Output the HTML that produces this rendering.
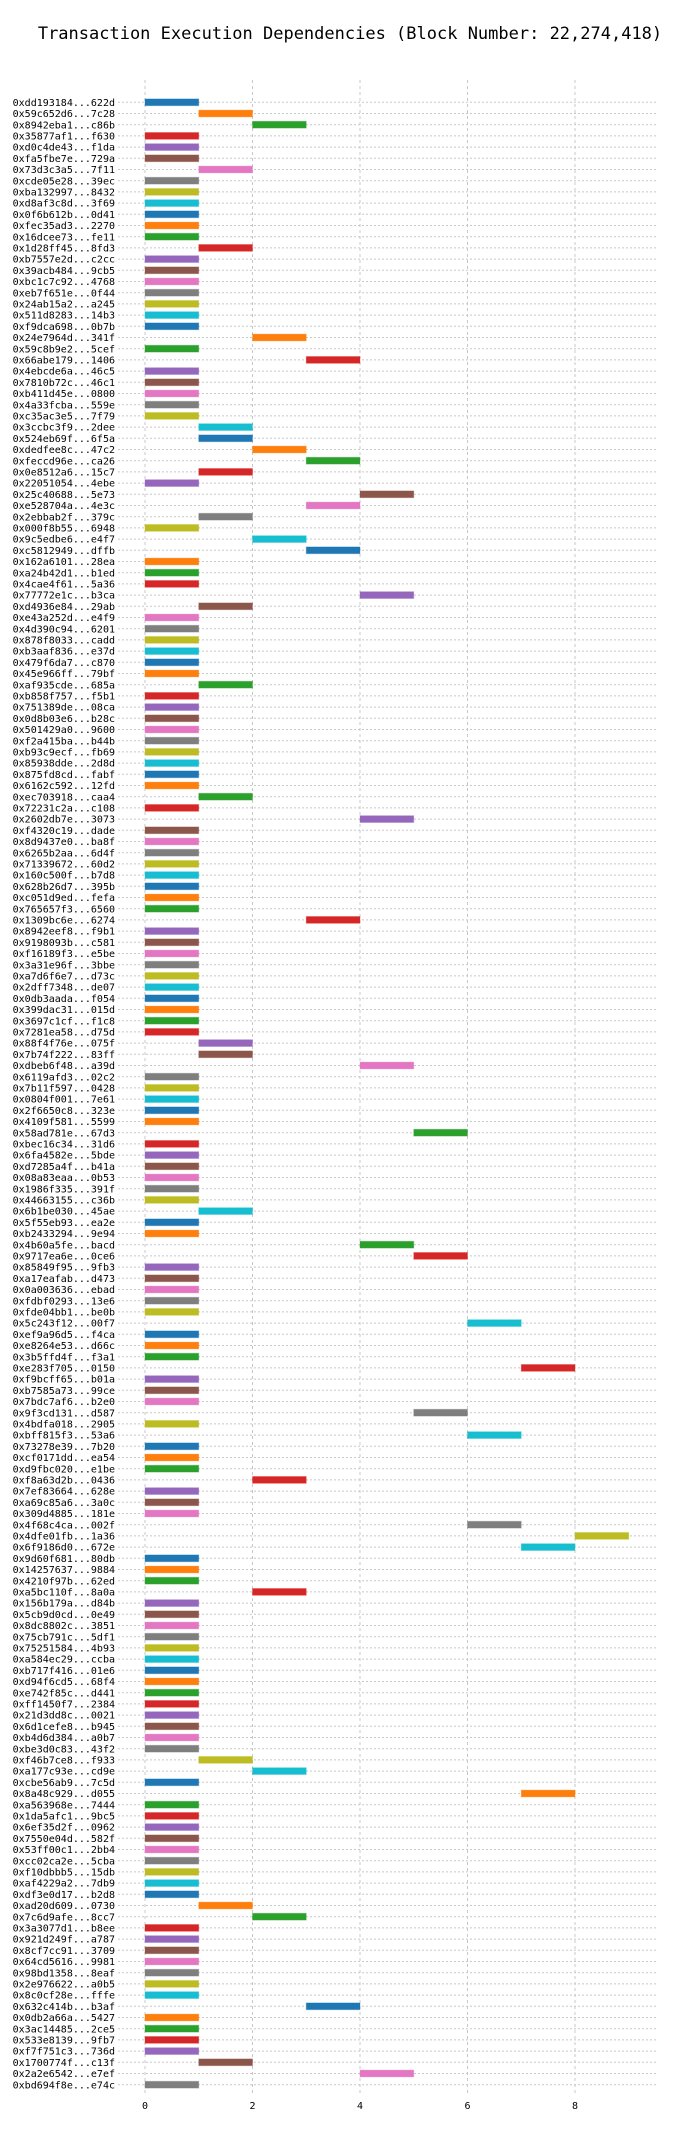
<!DOCTYPE html>
<html><head><meta charset="utf-8"><style>
html,body{margin:0;padding:0;background:#fff}
svg{display:block}
text{font-family:"DejaVu Sans Mono","Liberation Mono",monospace}
</style></head><body>
<svg id="chart" width="700" height="2136" viewBox="0 0 700 2136" xmlns="http://www.w3.org/2000/svg">
<text x="350" y="39" text-anchor="middle" font-size="17" fill="#000">Transaction Execution Dependencies (Block Number: 22,274,418)</text>
<g id="grid"></g>
<g id="bars"></g>
<g id="ylabels"></g>
<g id="xticks"></g>
</svg>
<script>
const txLabels = ["0xdd193184...622d","0x59c652d6...7c28","0x8942eba1...c86b","0x35877af1...f630","0xd0c4de43...f1da","0xfa5fbe7e...729a","0x73d3c3a5...7f11","0xcde05e28...39ec","0xba132997...8432","0xd8af3c8d...3f69","0x0f6b612b...0d41","0xfec35ad3...2270","0x16dcee73...fe11","0x1d28ff45...8fd3","0xb7557e2d...c2cc","0x39acb484...9cb5","0xbc1c7c92...4768","0xeb7f651e...0f44","0x24ab15a2...a245","0x511d8283...14b3","0xf9dca698...0b7b","0x24e7964d...341f","0x59c8b9e2...5cef","0x66abe179...1406","0x4ebcde6a...46c5","0x7810b72c...46c1","0xb411d45e...0800","0x4a33fcba...559e","0xc35ac3e5...7f79","0x3ccbc3f9...2dee","0x524eb69f...6f5a","0xdedfee8c...47c2","0xfeccd96e...ca26","0x0e8512a6...15c7","0x22051054...4ebe","0x25c40688...5e73","0xe528704a...4e3c","0x2ebbab2f...379c","0x000f8b55...6948","0x9c5edbe6...e4f7","0xc5812949...dffb","0x162a6101...28ea","0xa24b42d1...b1ed","0x4cae4f61...5a36","0x77772e1c...b3ca","0xd4936e84...29ab","0xe43a252d...e4f9","0x4d390c94...6201","0x878f8033...cadd","0xb3aaf836...e37d","0x479f6da7...c870","0x45e966ff...79bf","0xaf935cde...685a","0xb858f757...f5b1","0x751389de...08ca","0x0d8b03e6...b28c","0x501429a0...9600","0xf2a415ba...b44b","0xb93c9ecf...fb69","0x85938dde...2d8d","0x875fd8cd...fabf","0x6162c592...12fd","0xec703918...caa4","0x72231c2a...c108","0x2602db7e...3073","0xf4320c19...dade","0x8d9437e0...ba8f","0x6265b2aa...6d4f","0x71339672...60d2","0x160c500f...b7d8","0x628b26d7...395b","0xc051d9ed...fefa","0x765657f3...6560","0x1309bc6e...6274","0x8942eef8...f9b1","0x9198093b...c581","0xf16189f3...e5be","0x3a31e96f...3bbe","0xa7d6f6e7...d73c","0x2dff7348...de07","0x0db3aada...f054","0x399dac31...015d","0x3697c1cf...f1c8","0x7281ea58...d75d","0x88f4f76e...075f","0x7b74f222...83ff","0xdbeb6f48...a39d","0x6119afd3...02c2","0x7b11f597...0428","0x0804f001...7e61","0x2f6650c8...323e","0x4109f581...5599","0x58ad781e...67d3","0xbec16c34...31d6","0x6fa4582e...5bde","0xd7285a4f...b41a","0x08a83eaa...0b53","0x1986f335...391f","0x44663155...c36b","0x6b1be030...45ae","0x5f55eb93...ea2e","0xb2433294...9e94","0x4b60a5fe...bacd","0x9717ea6e...0ce6","0x85849f95...9fb3","0xa17eafab...d473","0x0a003636...ebad","0xfdbf0293...13e6","0xfde04bb1...be0b","0x5c243f12...00f7","0xef9a96d5...f4ca","0xe8264e53...d66c","0x3b5ffd4f...f3a1","0xe283f705...0150","0xf9bcff65...b01a","0xb7585a73...99ce","0x7bdc7af6...b2e0","0x9f3cd131...d587","0x4bdfa018...2905","0xbff815f3...53a6","0x73278e39...7b20","0xcf0171dd...ea54","0xd9fbc020...e1be","0xf8a63d2b...0436","0x7ef83664...628e","0xa69c85a6...3a0c","0x309d4885...181e","0x4f68c4ca...002f","0x4dfe01fb...1a36","0x6f9186d0...672e","0x9d60f681...80db","0x14257637...9884","0x4210f97b...62ed","0xa5bc110f...8a0a","0x156b179a...d84b","0x5cb9d0cd...0e49","0x8dc8802c...3851","0x75cb791c...5df1","0x75251584...4b93","0xa584ec29...ccba","0xb717f416...01e6","0xd94f6cd5...68f4","0xe742f85c...d441","0xff1450f7...2384","0x21d3dd8c...0021","0x6d1cefe8...b945","0xb4d6d384...a0b7","0xbe3d0c83...43f2","0xf46b7ce8...f933","0xa177c93e...cd9e","0xcbe56ab9...7c5d","0x8a48c929...d055","0xa563968e...7444","0x1da5afc1...9bc5","0x6ef35d2f...0962","0x7550e04d...582f","0x53ff00c1...2bb4","0xcc02ca2e...5cba","0xf10dbbb5...15db","0xaf4229a2...7db9","0xdf3e0d17...b2d8","0xad20d609...0730","0x7c6d9afe...8cc7","0x3a3077d1...b8ee","0x921d249f...a787","0x8cf7cc91...3709","0x64cd5616...9981","0x98bd1358...8eaf","0x2e976622...a0b5","0x8c0cf28e...fffe","0x632c414b...b3af","0x0db2a66a...5427","0x3ac14485...2ce5","0x533e8139...9fb7","0xf7f751c3...736d","0x1700774f...c13f","0x2a2e6542...e7ef","0xbd694f8e...e74c"];
const startTimes = [0,1,2,0,0,0,1,0,0,0,0,0,0,1,0,0,0,0,0,0,0,2,0,3,0,0,0,0,0,1,1,2,3,1,0,4,3,1,0,2,3,0,0,0,4,1,0,0,0,0,0,0,1,0,0,0,0,0,0,0,0,0,1,0,4,0,0,0,0,0,0,0,0,3,0,0,0,0,0,0,0,0,0,0,1,1,4,0,0,0,0,0,5,0,0,0,0,0,0,1,0,0,4,5,0,0,0,0,0,6,0,0,0,7,0,0,0,5,0,6,0,0,0,2,0,0,0,6,8,7,0,0,0,2,0,0,0,0,0,0,0,0,0,0,0,0,0,0,1,2,0,7,0,0,0,0,0,0,0,0,0,1,2,0,0,0,0,0,0,0,3,0,0,0,0,1,4,0];
const durations = startTimes.map(() => 1);
const xTickValues = [0,2,4,6,8];
const palette = ["#1f77b4","#ff7f0e","#2ca02c","#d62728","#9467bd","#8c564b","#e377c2","#7f7f7f","#bcbd22","#17becf"];

const NS = "http://www.w3.org/2000/svg";
const X0 = 145, UNIT = 53.75, PLOT_L = 118, PLOT_R = 656, PLOT_T = 80, PLOT_B = 2093;
const Y0 = 102.3, PITCH = 11.2;
const xs = v => X0 + v * UNIT;
const ys = i => Y0 + i * PITCH;
function mk(tag, attrs, parent) {
  const e = document.createElementNS(NS, tag);
  for (const k in attrs) e.setAttribute(k, attrs[k]);
  parent.appendChild(e);
  return e;
}
const grid = document.getElementById('grid');
const bars = document.getElementById('bars');
const ylab = document.getElementById('ylabels');
const xt = document.getElementById('xticks');

xTickValues.forEach(v => {
  const l = mk('line', {x1: xs(v), x2: xs(v), y1: PLOT_T, y2: PLOT_B, stroke: '#c8c8c8', 'stroke-width': 1, 'stroke-dasharray': '3,3'}, grid);
  
  
  const t = mk('text', {x: xs(v), y: 2109, 'text-anchor': 'middle', 'font-size': 10, fill: '#000'}, xt);
  t.textContent = String(v);
  
  
});

txLabels.forEach((lab, i) => {
  const y = ys(i);
  const g = mk('line', {x1: PLOT_L, x2: PLOT_R, y1: y, y2: y, stroke: '#c8c8c8', 'stroke-width': 1, 'stroke-dasharray': '2,2'}, grid);
  
  
  const t = mk('text', {x: 115, y: y + 3.6, 'text-anchor': 'end', 'font-size': 10, fill: '#000'}, ylab);
  t.textContent = lab;
  
  
  const x1 = xs(startTimes[i]), x2 = xs(startTimes[i] + durations[i]);
  const r = mk('rect', {x: x1, y: y - 3.4, width: x2 - x1, height: 6.8, fill: palette[i % 10], stroke: palette[i % 10], 'stroke-opacity': 0.3, 'stroke-width': 1}, bars);
  
  
});
</script>
</body></html>
